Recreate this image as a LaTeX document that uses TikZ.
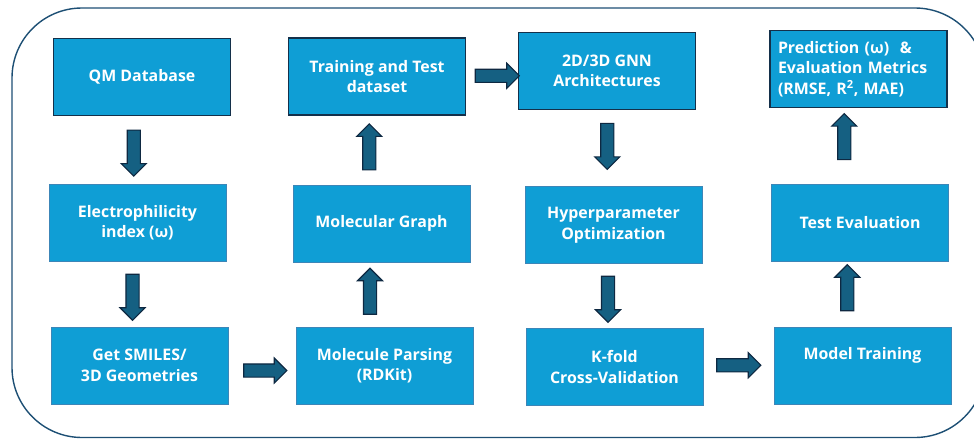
\documentclass[tikz,border=0pt]{standalone}
\usepackage{fontspec}
\setmainfont{Open Sans}
\usetikzlibrary{shapes.arrows,calc}
\definecolor{boxfill}{HTML}{0F9ED5}
\definecolor{boxdark}{HTML}{14304A}
\definecolor{boxlight}{HTML}{3C86B8}
\definecolor{arrfill}{HTML}{156082}
\definecolor{arrline}{HTML}{0E2841}
\definecolor{frameline}{HTML}{1D4F74}
\tikzset{
  box/.style={rectangle, fill=boxfill, draw=boxlight, line width=0.8pt,
    minimum width=177pt, minimum height=77pt, inner sep=0pt,
    text=white, font=\fontsize{15.9}{20.5}\selectfont\bfseries, align=center},
  darkbox/.style={box, draw=boxdark, line width=1.3pt},
  barrow/.style={single arrow, fill=arrfill, draw=arrline, line width=1.1pt,
    inner sep=0pt, inner ysep=6pt, minimum width=24pt,
    single arrow head extend=6pt, single arrow tip angle=90,
    minimum height=46pt, anchor=center}
}
\begin{document}
\begin{tikzpicture}[x=1pt,y=-1pt]
\useasboundingbox (0,0) rectangle (974,439);
\clip (0,0) rectangle (974,439);
\draw[frameline, line width=1.4pt, rounded corners=70pt] (12,8) rectangle (985,437.5);

\node[darkbox] (qm) at (142,77) {QM Database};
\node[box] (el) at (137.5,222.5) {Electrophilicity\\index (ω)};
\node[box] (sm) at (139.5,365.5) {Get SMILES/\\3D Geometries};
\node[box] (mp) at (384.5,365.5) {Molecule Parsing\\(RDKit)};
\node[box] (mg) at (381.5,223.5) {Molecular Graph};
\node[darkbox] (tt) at (377,76.5) {Training and Test\\dataset};
\node[darkbox] (gnn) at (607,71) {2D/3D GNN\\Architectures};
\node[box] (hp) at (613.5,225) {Hyperparameter\\Optimization};
\node[box] (kf) at (614.5,367) {K-fold\\Cross-Validation};
\node[box] (mt) at (862.5,365.5) {Model Training\\[-2pt]\strut};
\node[box] (te) at (860,222.5) {Test Evaluation};
\node[darkbox, align=left, text width=161pt] (pr) at (858.5,69)
  {Prediction (ω)~ \&\\Evaluation Metrics\\(RMSE, R\textsuperscript{2}, MAE)};

% block arrows, placed between the boxes they join
\node[barrow, rotate=-90] (a1) at ($(qm.south)!0.5!(el.north)+(-6,0)$) {};
\node[barrow, rotate=-90] (a2) at ($(el.south)!0.5!(sm.north)+(-6,0)$) {};
\node[barrow, minimum height=43pt] (a3) at ($(sm.east)!0.5!(mp.west)+(0,5)$) {};
\node[barrow, rotate=90] (a4) at ($(mp.north)!0.5!(mg.south)+(-13,0)$) {};
\node[barrow, rotate=90] (a5) at ($(mg.north)!0.5!(tt.south)+(-10,0)$) {};
\node[barrow, minimum height=44pt] (a6) at ($(tt.east)!0.5!(gnn.west)+(2,2)$) {};
\node[barrow, rotate=-90] (a7) at ($(gnn.south)!0.5!(hp.north)+(-3,-5)$) {};
\node[barrow, rotate=-90] (a8) at ($(hp.south)!0.5!(kf.north)+(-6,0)$) {};
\node[barrow, minimum height=44pt] (a9) at ($(kf.east)!0.5!(mt.west)+(-3,-1)$) {};
\node[barrow, rotate=90] (a10) at ($(mt.north)!0.5!(te.south)+(-14,-3)$) {};
\node[barrow, rotate=90] (a11) at ($(te.north)!0.5!(pr.south)+(-15,-6)$) {};
\end{tikzpicture}
\end{document}
